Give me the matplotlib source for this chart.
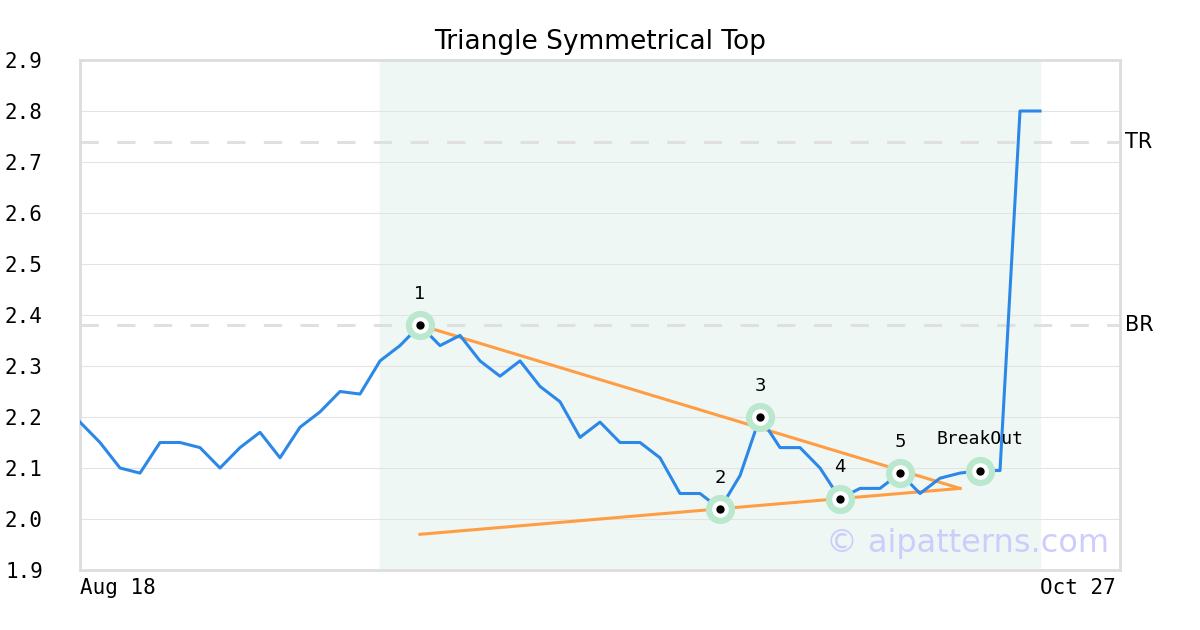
import matplotlib.pyplot as plt
import numpy as np

# closing prices, one per trading day
prices = [2.19, 2.15, 2.10, 2.09, 2.15, 2.15, 2.14, 2.10, 2.14, 2.17,
          2.12, 2.18, 2.21, 2.25, 2.245, 2.31, 2.34, 2.38, 2.34, 2.36,
          2.31, 2.28, 2.31, 2.26, 2.23, 2.16, 2.19, 2.15, 2.15, 2.12,
          2.05, 2.05, 2.02, 2.085, 2.20, 2.14, 2.14, 2.10, 2.04, 2.06,
          2.06, 2.09, 2.05, 2.08, 2.09, 2.095, 2.095, 2.80, 2.80]
date_labels = ['Aug 18', 'Oct 27']
date_idx = [0, 48]

pivot_idx = [17, 32, 34, 38, 41, 45]
pivot_names = ['1', '2', '3', '4', '5', 'BreakOut']

upper_x = [17, 44]
upper_y = [2.38, 2.06]
lower_x = [17, 44]
lower_y = [1.97, 2.06]

levels = [2.74, 2.38]
level_names = ['TR', 'BR']
pattern_span = [15, 48]

x = np.arange(len(prices))
y = np.array(prices)

fig = plt.figure(figsize=(12, 6.3), dpi=100)
ax = fig.add_axes([80 / 1200, 60 / 630, 1040 / 1200, 510 / 630])

ax.axvspan(pattern_span[0], pattern_span[1], color='#eff7f4', zorder=0)
ax.set_xlim(0, 52)
ax.set_ylim(1.9, 2.9)
ax.set_yticks(np.arange(1.9, 2.91, 0.1))
ax.grid(axis='y', color='#e3e3e3', lw=0.8, zorder=1)
ax.set_axisbelow(True)

for lv, nm in zip(levels, level_names):
    ax.axhline(lv, color='#e0e0e0', lw=2.2, dashes=(6, 6), zorder=1)
    ax.text(52.25, lv, nm, fontsize=15, va='center', ha='left',
            family='DejaVu Sans')

ax.plot(x, y, color='#2c88e8', lw=2.2, zorder=3)
ax.plot(upper_x, upper_y, color='#ff9d45', lw=2.2, zorder=2)
ax.plot(lower_x, lower_y, color='#ff9d45', lw=2.2, zorder=2)

for i, nm in zip(pivot_idx, pivot_names):
    ax.plot(x[i], y[i], 'o', ms=21, color='#b9e8cf', mec='none', zorder=4)
    ax.plot(x[i], y[i], 'o', ms=12, color='white', mec='none', zorder=5)
    ax.plot(x[i], y[i], 'o', ms=6, color='black', mec='none', zorder=6)
    fam = 'DejaVu Sans Mono' if nm == 'BreakOut' else 'DejaVu Sans'
    ax.annotate(nm, (x[i], y[i]), xytext=(0, 16), textcoords='offset points',
                ha='center', va='bottom', fontsize=13, family=fam)

ax.text(0.99, 0.022, '\u00a9 aipatterns.com', transform=ax.transAxes,
        ha='right', va='bottom', fontsize=23, color='#cdcdfc', zorder=7)

ax.set_xticks(date_idx)
ax.set_xticklabels(date_labels, ha='left')
ax.tick_params(length=0, labelsize=15, pad=6)
for lab in ax.get_xticklabels() + ax.get_yticklabels():
    lab.set_family('DejaVu Sans Mono')
ax.tick_params(axis='y', pad=54)
for lab in ax.get_yticklabels():
    lab.set_ha('left')

for s in ax.spines.values():
    s.set_color('#dddddd')
    s.set_linewidth(2)

ax.set_title('Triangle Symmetrical Top', fontsize=19, pad=8)

fig.savefig('out.png', dpi=100)
